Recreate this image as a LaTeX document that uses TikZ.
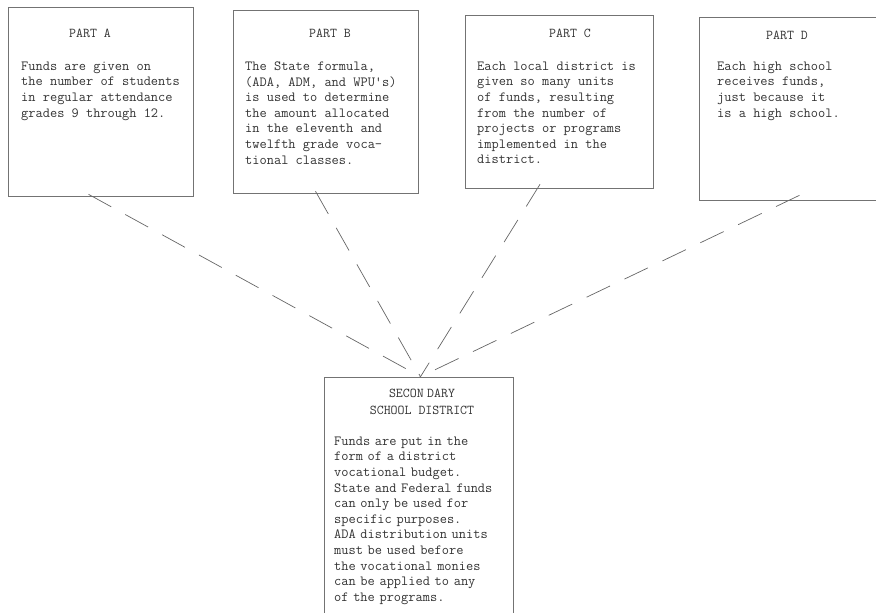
\documentclass[tikz,border=0pt]{standalone}
\usepackage{tikz}

\begin{document}
\begin{tikzpicture}[x=1pt,y=-1pt,
  box/.style={draw=black!55,line width=0.6pt,inner sep=0pt},
  link/.style={draw=black!60,line width=0.7pt,dash pattern=on 26pt off 16pt},
  head/.style={font=\ttfamily\fontsize{13.5}{17}\selectfont,align=center,text=black!80},
  body/.style={font=\ttfamily\fontsize{14}{15.6}\selectfont,align=left,anchor=north west,inner sep=0pt,text=black!80}]
\useasboundingbox (0,0) rectangle (876,613);
\clip (0,0) rectangle (876,613);
% top boxes
\node[box,minimum width=185pt,minimum height=189pt] (partA) at (100.5,101.5) {};
\node[box,minimum width=185pt,minimum height=183pt] (partB) at (325.5,101.5) {};
\node[box,minimum width=188pt,minimum height=173pt] (partC) at (559,101.5) {};
\node[box,minimum width=201pt,minimum height=183pt] (partD) at (799.5,108.5) {};
% bottom box
\node[box,minimum width=189pt,minimum height=253pt] (district) at (418.5,503.5) {};
\draw (90,33) node[head] (headA) {PART A};
\draw (330,33) node[head] (headB) {PART B};
\draw (570,33) node[head] (headC) {PART C};
\draw (787,35) node[head] (headD) {PART D};
\draw (422,402) node[head] (headS) {SECON\hspace{0.25em}DARY\\SCHOOL DISTRICT};
\draw (21,61.5) node[body] (textA) {Funds are given on\\the number of students\\in regular attendance\\grades 9 through 12.};
\draw (245,61.5) node[body] (textB) {The State formula,\\(ADA, ADM, and WPU's)\\is used to determine\\the amount allocated\\in the eleventh and\\twelfth grade voca-\\tional classes.};
\draw (477,61.5) node[body] (textC) {Each local district is\\given so many units\\of funds, resulting\\from the number of\\projects or programs\\implemented in the\\district.};
\draw (717,61.5) node[body] (textD) {Each high school\\receives funds,\\just because it\\is a high school.};
\draw (334,436.5) node[body,text width=185pt] (textS) {Funds are put in the\\form of a district\\vocational budget.\\State and Federal funds\\can only be used for\\specific purposes.\\ADA distribution units\\must be used before\\the vocational monies\\can be applied to any\\of the programs.};
% dashed connectors
\coordinate (hub) at ([xshift=2pt]district.north);
\draw[link] ([xshift=-12pt,yshift=2pt]partA.south) -- (hub);
\draw[link] ([xshift=-10pt,yshift=2pt]partB.south) -- (hub);
\draw[link] ([xshift=-19pt,yshift=4pt]partC.south) -- (hub);
\draw[link] ([xshift=0pt,yshift=5pt]partD.south) -- (hub);
\end{tikzpicture}
\end{document}
